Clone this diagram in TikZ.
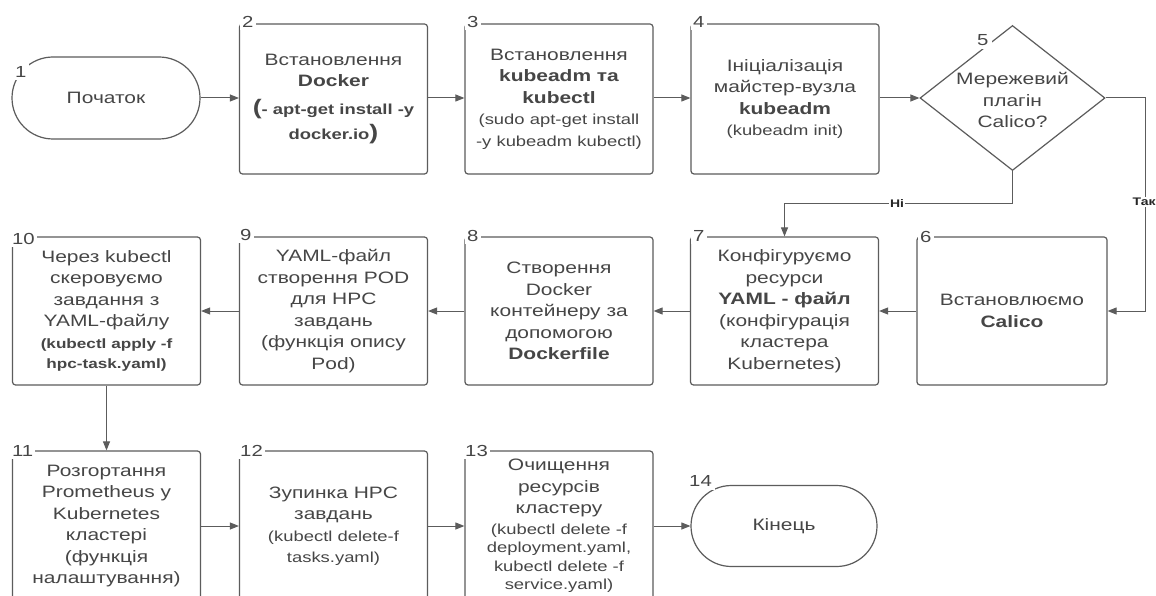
\documentclass[tikz,border=0pt]{standalone}
\usepackage{fontspec}
\setmainfont{Liberation Sans}[FakeStretch=1.27]
\usetikzlibrary{shapes.geometric,shapes.misc,arrows.meta,calc}
\definecolor{lc}{HTML}{5C5C5C}
\definecolor{tc}{HTML}{464646}
\newcommand{\mainf}{\fontsize{16.5}{21.5}\selectfont}
\newcommand{\cmdf}{\fontsize{14.5}{18}\selectfont}
\newcommand{\cmdsf}{\fontsize{13.5}{18}\selectfont}
\newcommand{\bigparen}[1]{{\fontsize{21}{21}\selectfont #1}}
\begin{document}
\begin{tikzpicture}[x=1pt,y=-1pt,
  box/.style={draw=lc, line width=1.2pt, rounded corners=3pt, minimum width=188pt, minimum height=150pt, inner sep=0pt, align=center, font=\mainf, text=tc},
  term/.style={draw=lc, line width=1.2pt, rounded rectangle, minimum width=188pt, minimum height=82pt, inner sep=0pt, font=\mainf, text=tc},
  dia/.style={draw=lc, line width=1.2pt, diamond, minimum width=185pt, minimum height=145pt, inner sep=0pt},
  txt/.style={align=center, font=\mainf, text=tc, inner sep=0pt},
  num/.style={fill=white, inner sep=2pt, font=\fontsize{16}{16}\selectfont, text=tc, anchor=west},
  arr/.style={draw=lc, line width=1pt, -{Triangle[length=9pt,width=7pt]}},
  lbl/.style={fill=white, inner sep=1.5pt, font=\bfseries\fontsize{11}{11}\selectfont, text=black!85}]
\useasboundingbox (0,0) rectangle (1156,596);
\clip (0,0) rectangle (1156,596);
\fill[white] (0,0) rectangle (1156,596);

% top row
\node[term] (t1) at (106,98) {Початок};
\node[box] (b2) at (333.5,99) {Встановлення\\{\bfseries Docker}\\[6pt]{\cmdf\bfseries\bigparen{(}- apt-get install -y}\\[4pt]{\cmdf\bfseries docker.io\bigparen{)}}};
\node[box] (b3) at (559,99) {Встановлення\\{\bfseries kubeadm та}\\{\bfseries kubectl}\\{\cmdf (sudo apt-get install}\\{\cmdf -y kubeadm kubectl)}};
\node[box] (b4) at (785,99) {Ініціалізація\\майстер-вузла\\{\bfseries kubeadm}\\{\cmdf (kubeadm init)}};
\node[dia] (d5) at (1012.5,98) {};
\node[txt] at (1012.5,100) {Мережевий\\плагін\\Calico?};

% middle row
\node[box] (b6) at (1012,311) [minimum width=190pt, minimum height=148pt] {Встановлюємо\\{\bfseries Calico}};
\node[box] (b7) at (784.5,311) [minimum height=148pt] {Конфігуруємо\\ресурси\\{\bfseries YAML - файл}\\(конфігурація\\кластера\\Kubernetes)};
\node[box] (b8) at (559,311) [minimum height=148pt] {Створення\\Docker\\контейнеру за\\допомогою\\{\bfseries Dockerfile}};
\node[box] (b9) at (333.5,311) [minimum height=148pt] {YAML-файл\\створення POD\\для HPC\\завдань\\(функція опису\\Pod)};
\node[box] (b10) at (106.5,311) [minimum height=148pt] {Через kubectl\\скеровуємо\\завдання з\\YAML-файлу\\{\cmdsf\bfseries (kubectl apply -f}\\[-1pt]{\cmdsf\bfseries hpc-task.yaml)}};

% bottom row
\node[box] (b11) at (106.5,526) {Розгортання\\Prometheus у\\Kubernetes\\кластері\\(функція\\налаштування)};
\node[box] (b12) at (333.5,526) {Зупинка HPC\\завдань\\{\cmdf (kubectl delete-f}\\{\cmdf tasks.yaml)}};
\node[box] (b13) at (559,526) {Очищення\\ресурсів\\кластеру\\[-1pt]{\cmdf (kubectl delete -f}\\[-3pt]{\cmdf deployment.yaml,}\\[-3pt]{\cmdf kubectl delete -f}\\[-3pt]{\cmdf service.yaml)}};
\node[term] (t14) at (784,526) [minimum width=186pt, minimum height=81pt] {Кінець};

% numbers
\node[num] at (13,72) {1};
\node[num] at (240,22) {2};
\node[num] at (465,22) {3};
\node[num] at (691,22) {4};
\node[num, inner sep=3pt] at (974,40) {5};
\node[num] at (918,237) {6};
\node[num] at (691,236) {7};
\node[num] at (465,236) {8};
\node[num] at (238,235) {9};
\node[num] at (10,239) {10};
\node[num] at (10,451) {11};
\node[num] at (238,451) {12};
\node[num] at (463,451) {13};
\node[num, inner sep=3pt] at (686,481) {14};

% connectors
\coordinate (ni) at (1012.5,204);
\coordinate (tk) at (1145,311);
\draw[arr] (t1.east) -- (t1.east -| b2.west);
\draw[arr] (b2.east |- t1.east) -- (b3.west |- t1.east);
\draw[arr] (b3.east |- d5.west) -- (b4.west |- d5.west);
\draw[arr] (b4.east |- d5.west) -- (d5.west);
\draw[arr] (d5.east) -| (tk) -- (b6.east);
\draw[arr] (d5.south) -- (ni) -| (b7.north);
\draw[arr] (b6) -- (b7);
\draw[arr] (b7) -- (b8);
\draw[arr] (b8) -- (b9);
\draw[arr] (b9) -- (b10);
\draw[arr] (b10) -- (b11);
\draw[arr] (b11) -- (b12);
\draw[arr] (b12) -- (b13);
\draw[arr] (b13) -- (t14);
\node[lbl] at (897,204) {Ні};
\node[lbl, anchor=west] at (1131,202) {Так};
\end{tikzpicture}
\end{document}
